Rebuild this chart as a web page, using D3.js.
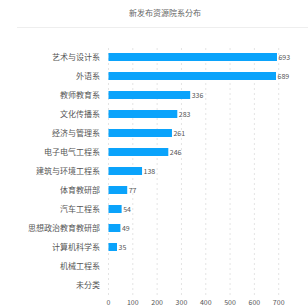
<!DOCTYPE html>
<html>
<head>
<meta charset="utf-8">
<script src="https://cdn.jsdelivr.net/npm/d3@7"></script>
<style>
  body { margin: 0; background: #fff; }
  text { font-family: "Microsoft YaHei", "Noto Sans CJK SC", sans-serif; }
</style>
</head>
<body>
<script>
var width = 308,
    height = 308;

var titleText = "新发布资源院系分布";
var categories = ["艺术与设计系", "外语系", "教师教育系", "文化传播系", "经济与管理系", "电子电气工程系",
                  "建筑与环境工程系", "体育教研部", "汽车工程系", "思想政治教育教研部", "计算机科学系", "机械工程系", "未分类"];
var values = [693, 689, 336, 283, 261, 246, 138, 77, 54, 49, 35, 0, 0];
var ticks = [0, 100, 200, 300, 400, 500, 600, 700];

var svg = d3.select("body").append("svg")
            .attr("width", width)
            .attr("height", height);

svg.append("text")
   .attr("x", 165).attr("y", 16)
   .attr("text-anchor", "middle")
   .attr("font-size", 8)
   .attr("fill", "#666")
   .text(titleText);

svg.append("line")
   .attr("x1", 17).attr("x2", 308)
   .attr("y1", 27.5).attr("y2", 27.5)
   .attr("stroke", "#eee");

var x = d3.scaleLinear()
          .domain([0, 800])
          .range([108.5, 303]);

var y = d3.scaleBand()
          .domain(categories)
          .range([47.5, 294.5])
          .paddingInner(0.58)
          .paddingOuter(0.29);

// grid
svg.append("g")
   .selectAll("line")
   .data(ticks)
   .enter()
   .append("line")
   .attr("x1", d => x(d)).attr("x2", d => x(d))
   .attr("y1", 48).attr("y2", 295)
   .attr("stroke", "#e4e4e4")
   .attr("stroke-dasharray", "2,3");

svg.append("g")
   .selectAll("text")
   .data(ticks)
   .enter()
   .append("text")
   .attr("x", d => x(d))
   .attr("y", 305)
   .attr("text-anchor", "middle")
   .attr("font-size", 7)
   .attr("fill", "#555")
   .text(d => d);

// category labels
svg.append("g")
   .selectAll("text")
   .data(categories)
   .enter()
   .append("text")
   .attr("x", 100)
   .attr("y", d => y(d) + y.bandwidth() / 2 + 3)
   .attr("text-anchor", "end")
   .attr("font-size", 8)
   .attr("fill", "#555")
   .text(d => d);

var bars = svg.append("g")
              .selectAll("g")
              .data(values)
              .enter()
              .append("g");

bars.append("rect")
    .attr("x", x(0))
    .attr("y", (d, i) => y(categories[i]))
    .attr("width", d => x(d) - x(0))
    .attr("height", y.bandwidth())
    .attr("fill", "#0aa3fb");

bars.filter(d => d > 0)
    .append("text")
    .attr("x", d => x(d) + 1.5)
    .attr("y", (d, i) => y(categories[i]) + y.bandwidth() / 2 + 2.5)
    .attr("font-size", 7)
    .attr("fill", "#555")
    .text(d => d);
</script>
</body>
</html>
